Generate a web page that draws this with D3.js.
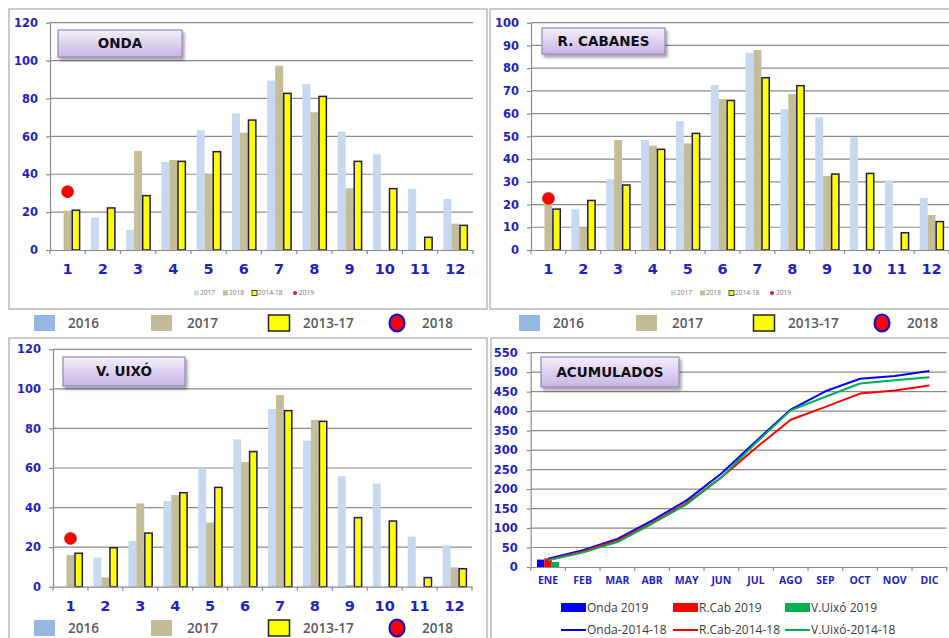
<!DOCTYPE html>
<html>
<head>
<meta charset="utf-8">
<script src="https://cdn.jsdelivr.net/npm/d3@7"></script>
<style>
  body { margin: 0; background: #fff; }
  svg { display: block; }
</style>
</head>
<body>
<svg id="grafico" width="949" height="638"></svg>
<script>
// --- datos ---
const meses = ["1", "2", "3", "4", "5", "6", "7", "8", "9", "10", "11", "12"];
const mesesAbr = ["ENE", "FEB", "MAR", "ABR", "MAY", "JUN", "JUL", "AGO", "SEP", "OCT", "NOV", "DIC"];

const ticks120 = [0, 20, 40, 60, 80, 100, 120];
const ticks100 = [0, 10, 20, 30, 40, 50, 60, 70, 80, 90, 100];
const ticksAcum = [0, 50, 100, 150, 200, 250, 300, 350, 400, 450, 500, 550];

const onda2016 = [0, 17.2, 10.6, 46.4, 63.2, 72.1, 89.4, 87.6, 62.5, 50.5, 32.2, 26.9];
const onda2017 = [20.8, 0, 52.3, 47.5, 40.1, 61.9, 97.3, 72.7, 32.6, 0, 0, 13.9];
const onda1317 = [21.0, 22.2, 28.7, 46.8, 51.9, 68.6, 82.7, 81.1, 46.8, 32.4, 6.7, 13.0];
const onda2018 = [30.8];

const cab2016 = [0, 17.9, 31.1, 48.4, 56.7, 72.6, 86.8, 62.0, 58.4, 49.6, 30.6, 22.9];
const cab2017 = [20.5, 9.8, 48.4, 45.9, 46.9, 66.4, 88.0, 68.6, 32.6, 0, 0, 15.4];
const cab1317 = [18.0, 21.8, 28.6, 44.3, 51.3, 65.8, 75.8, 72.3, 33.4, 33.7, 7.6, 12.5];
const cab2018 = [22.7];

const uixo2016 = [0, 14.8, 23.1, 43.3, 59.8, 74.5, 89.8, 73.8, 55.8, 52.1, 25.3, 20.9];
const uixo2017 = [16.0, 4.7, 42.1, 46.3, 32.4, 63.0, 96.9, 84.3, 0.8, 0, 0, 9.8];
const uixo1317 = [16.9, 19.7, 27.1, 47.5, 50.2, 68.3, 89.0, 83.6, 34.9, 33.2, 4.6, 9.1];
const uixo2018 = [24.4];

const acumOnda = [21, 43, 72, 119, 171, 240, 323, 404, 451, 483, 490, 503];
const acumCab = [18, 40, 68, 113, 164, 230, 306, 378, 411, 445, 453, 466];
const acumUixo = [17, 37, 64, 111, 161, 230, 319, 402, 437, 471, 479, 487];
const acum2019 = [19, 22, 13]; // Onda, R.Cab, V.Uixó en ENE

const AZUL_TXT = "#1f1fc4";
const GRIS_REJ = "#8a8a8a";

const svg = d3.select("#grafico");
const defs = svg.append("defs");

const grad = defs.append("linearGradient").attr("id", "gradTitulo")
    .attr("x1", 0).attr("y1", 0).attr("x2", 0).attr("y2", 1);
grad.append("stop").attr("offset", "0%").attr("stop-color", "#f4f0fb");
grad.append("stop").attr("offset", "100%").attr("stop-color", "#c6b5e4");

const sombra = defs.append("filter").attr("id", "sombra")
    .attr("x", "-10%").attr("y", "-20%").attr("width", "130%").attr("height", "160%");
sombra.append("feDropShadow").attr("dx", 2).attr("dy", 3).attr("stdDeviation", 1.6)
    .attr("flood-color", "#000").attr("flood-opacity", 0.35);


function marco(x, y, w, h){
    svg.append("rect")
        .attr("x", x).attr("y", y).attr("width", w).attr("height", h)
        .attr("fill", "#fff").attr("stroke", "#bdbdbd").attr("stroke-width", 1.6);
}


function titulo(g, texto, x, y, w, h){
    g.append("rect")
        .attr("x", x).attr("y", y).attr("width", w).attr("height", h)
        .attr("fill", "url(#gradTitulo)").attr("stroke", "#9585bd").attr("stroke-width", 1.2)
        .attr("filter", "url(#sombra)");
    g.append("text")
        .attr("x", x + w / 2).attr("y", y + h / 2).attr("dy", "0.36em")
        .attr("text-anchor", "middle")
        .attr("font-family", "DejaVu Sans, sans-serif").attr("font-weight", "bold")
        .attr("font-size", 13.5).attr("fill", "#111")
        .text(texto);
}


function estiloEjeY(a, tam){
    a.select(".domain").attr("stroke", GRIS_REJ).attr("stroke-width", 1.2);
    a.selectAll(".tick line").attr("stroke", GRIS_REJ).attr("stroke-width", 1.2);
    a.selectAll(".tick text")
        .attr("fill", AZUL_TXT).attr("font-family", "DejaVu Sans, sans-serif")
        .attr("font-weight", "bold").attr("font-size", tam);
}


function panelBarras(cfg){

    const g = svg.append("g");

    const x = d3.scaleBand().domain(meses).range([cfg.x0, cfg.x1])
        .paddingInner(0.32).paddingOuter(0.16);
    const y = d3.scaleLinear().domain([0, cfg.max]).range([cfg.base, cfg.top]);
    const xs = d3.scaleBand().domain(["s2016", "s2017", "s1317"]).range([0, x.bandwidth()]);

    // rejilla
    g.selectAll(".rejilla").data(cfg.ticks.slice(1)).enter().append("line")
        .attr("x1", cfg.x0).attr("x2", cfg.x1)
        .attr("y1", d => y(d)).attr("y2", d => y(d))
        .attr("stroke", GRIS_REJ).attr("stroke-width", 1.2);

    titulo(g, cfg.nombre, cfg.tit[0], cfg.tit[1], cfg.tit[2], cfg.tit[3]);

    const filas = meses.map((m, i) => ({mes: m, s2016: cfg.v2016[i], s2017: cfg.v2017[i], s1317: cfg.v1317[i]}));

    const grupos = g.selectAll(".mes").data(filas).enter().append("g")
        .attr("transform", d => `translate(${x(d.mes)},0)`);

    grupos.append("rect")
        .attr("x", xs("s2016")).attr("width", xs.bandwidth())
        .attr("y", d => y(d.s2016)).attr("height", d => cfg.base - y(d.s2016))
        .attr("fill", "#c6d9f1");
    grupos.append("rect")
        .attr("x", xs("s2017")).attr("width", xs.bandwidth())
        .attr("y", d => y(d.s2017)).attr("height", d => cfg.base - y(d.s2017))
        .attr("fill", "#c4bd97");
    grupos.append("rect")
        .attr("x", xs("s1317") + 0.6).attr("width", xs.bandwidth() - 0.6)
        .attr("y", d => y(d.s1317)).attr("height", d => cfg.base - y(d.s1317))
        .attr("fill", "#ffff00").attr("stroke", "#1c1c5a").attr("stroke-width", 1.5);

    // eje x
    g.append("g").attr("transform", `translate(0,${cfg.base})`)
        .call(d3.axisBottom(x).tickSize(0).tickSizeOuter(0).tickPadding(14))
        .call(a => {
            a.select(".domain").attr("stroke", GRIS_REJ).attr("stroke-width", 1.2);
            a.selectAll(".tick text")
                .attr("fill", AZUL_TXT).attr("font-family", "DejaVu Sans, sans-serif")
                .attr("font-weight", "bold").attr("font-size", 14.5);
        });

    // marcas entre categorias
    const limites = meses.map(m => x(m) - x.step() * x.paddingInner() / 2).concat([cfg.x1]);
    g.selectAll(".limite").data(limites).enter().append("line")
        .attr("x1", d => d).attr("x2", d => d)
        .attr("y1", cfg.base).attr("y2", cfg.base + 4)
        .attr("stroke", GRIS_REJ).attr("stroke-width", 1.2);

    // eje y
    g.append("g").attr("transform", `translate(${cfg.x0},0)`)
        .call(d3.axisLeft(y).tickValues(cfg.ticks).tickSize(4).tickSizeOuter(0).tickPadding(8))
        .call(a => estiloEjeY(a, 11.5));

    // punto 2018
    g.selectAll(".punto").data(cfg.v2018).enter().append("circle")
        .attr("cx", (d, i) => x(meses[i]) + x.bandwidth() / 2)
        .attr("cy", d => y(d)).attr("r", 6)
        .attr("fill", "#ff0000").attr("stroke", "#d40000").attr("stroke-width", 0.6);

    // leyenda pequeña interna
    if (cfg.miniLeyenda){
        const ml = g.append("g").attr("transform", `translate(${cfg.miniLeyenda[0]},${cfg.miniLeyenda[1]})`);
        const items = [["2017", "#c6d9f1", "r"], ["2018", "#c4bd97", "r"], ["2014-18", "#ffff00", "b"], ["2019", "#d0202a", "c"]];
        let px = 0;
        items.forEach(it => {
            if (it[2] === "c"){
                ml.append("circle").attr("cx", px + 2).attr("cy", 0).attr("r", 2).attr("fill", it[1]);
            } else {
                ml.append("rect").attr("x", px).attr("y", -2.5).attr("width", 5).attr("height", 5)
                    .attr("fill", it[1]).attr("stroke", it[2] === "b" ? "#1c1c5a" : "none").attr("stroke-width", 0.8);
            }
            ml.append("text").attr("x", px + 6).attr("y", 0).attr("dy", "0.35em")
                .attr("font-family", "Open Sans, sans-serif").attr("font-size", 6.5).attr("fill", "#777")
                .text(it[0]);
            px += it[0].length * 4 + 13;
        });
    }
}


function leyendaInferior(dx, yc){
    const g = svg.append("g").attr("transform", `translate(${dx},${yc})`);
    const fuente = t => t.attr("font-family", "Open Sans, sans-serif").attr("font-weight", 600)
        .attr("font-size", 13.5).attr("fill", "#595959").attr("dy", "0.36em");

    g.append("rect").attr("x", 34).attr("y", -8).attr("width", 21).attr("height", 16).attr("fill", "#95b8e3");
    fuente(g.append("text").attr("x", 68).attr("y", 0).text("2016"));

    g.append("rect").attr("x", 151).attr("y", -8).attr("width", 21).attr("height", 16).attr("fill", "#c4bc96");
    fuente(g.append("text").attr("x", 187).attr("y", 0).text("2017"));

    g.append("rect").attr("x", 268.5).attr("y", -8).attr("width", 21).attr("height", 16)
        .attr("fill", "#ffff00").attr("stroke", "#222").attr("stroke-width", 1.5);
    fuente(g.append("text").attr("x", 303).attr("y", 0).text("2013-17"));

    g.append("ellipse").attr("cx", 397).attr("cy", 0).attr("rx", 7.5).attr("ry", 8.5)
        .attr("fill", "#ff0000").attr("stroke", "#1010d0").attr("stroke-width", 2.2);
    fuente(g.append("text").attr("x", 422).attr("y", 0).text("2018"));
}


function panelAcumulados(cfg){

    const g = svg.append("g");

    const x = d3.scaleBand().domain(mesesAbr).range([cfg.x0, cfg.x1]);
    const xb = d3.scaleBand().domain(mesesAbr).range([cfg.x0, cfg.x1]).paddingInner(0.36).paddingOuter(0.18);
    const xs = d3.scaleBand().domain(["Onda", "R.Cab", "V.Uixó"]).range([0, xb.bandwidth()]);
    const y = d3.scaleLinear().domain([0, 550]).range([cfg.base, cfg.top]);

    g.selectAll(".rejilla").data(ticksAcum.slice(1)).enter().append("line")
        .attr("x1", cfg.x0).attr("x2", cfg.x1)
        .attr("y1", d => y(d)).attr("y2", d => y(d))
        .attr("stroke", GRIS_REJ).attr("stroke-width", 1.2);

    titulo(g, "ACUMULADOS", 541, 357, 138, 30);

    const colores = ["#0000ff", "#ff0000", "#00b050"];
    const series = [acumOnda, acumCab, acumUixo];

    // barras 2019 (solo ENE)
    g.selectAll(".b2019").data(acum2019).enter().append("rect")
        .attr("x", (d, i) => xb("ENE") + xs(xs.domain()[i]))
        .attr("width", xs.bandwidth())
        .attr("y", d => y(d)).attr("height", d => cfg.base - y(d))
        .attr("fill", (d, i) => colores[i]);

    const linea = d3.line()
        .x((d, i) => x(mesesAbr[i]) + x.bandwidth() / 2)
        .y(d => y(d));

    series.forEach((s, i) => {
        g.append("path").attr("d", linea(s))
            .attr("fill", "none").attr("stroke", colores[i]).attr("stroke-width", 2)
            .attr("stroke-linejoin", "round");
    });

    g.append("g").attr("transform", `translate(0,${cfg.base})`)
        .call(d3.axisBottom(x).tickSize(0).tickSizeOuter(0).tickPadding(10))
        .call(a => {
            a.select(".domain").attr("stroke", GRIS_REJ).attr("stroke-width", 1.2);
            a.selectAll(".tick text")
                .attr("fill", AZUL_TXT).attr("font-family", "Open Sans, sans-serif")
                .attr("font-weight", "bold").attr("font-size", 10.5);
        });

    const limites = mesesAbr.map(m => x(m)).concat([cfg.x1]);
    g.selectAll(".limite").data(limites).enter().append("line")
        .attr("x1", d => d).attr("x2", d => d)
        .attr("y1", cfg.base).attr("y2", cfg.base + 4)
        .attr("stroke", GRIS_REJ).attr("stroke-width", 1.2);

    g.append("g").attr("transform", `translate(${cfg.x0},0)`)
        .call(d3.axisLeft(y).tickValues(ticksAcum).tickSize(4).tickSizeOuter(0).tickPadding(9))
        .call(a => estiloEjeY(a, 11.5));

    // leyenda
    const nombres2019 = ["Onda 2019", "R.Cab 2019", "V.Uixó 2019"];
    const nombresLinea = ["Onda-2014-18", "R.Cab-2014-18", "V.Uixó-2014-18"];
    const posX = [561, 673, 785];
    const ley = g.append("g");
    posX.forEach((px, i) => {
        ley.append("rect").attr("x", px).attr("y", 603).attr("width", 25).attr("height", 9).attr("fill", colores[i]);
        ley.append("text").attr("x", px + 26).attr("y", 607.5).attr("dy", "0.35em")
            .attr("font-family", "Open Sans, sans-serif").attr("font-size", 12).attr("fill", "#3a3a3a")
            .text(nombres2019[i]);
        ley.append("line").attr("x1", px).attr("x2", px + 25).attr("y1", 630).attr("y2", 630)
            .attr("stroke", colores[i]).attr("stroke-width", 2);
        ley.append("text").attr("x", px + 26).attr("y", 630).attr("dy", "0.35em")
            .attr("font-family", "Open Sans, sans-serif").attr("font-size", 12).attr("fill", "#3a3a3a")
            .text(nombresLinea[i]);
    });
}


// marcos de los cuatro paneles
marco(9, 9, 478, 300);
marco(490, 9, 470, 300);
marco(9, 338, 478, 320);
marco(491, 338, 470, 320);

panelBarras({nombre: "ONDA", x0: 50, x1: 473, base: 250, top: 22.7, max: 120, ticks: ticks120,
    v2016: onda2016, v2017: onda2017, v1317: onda1317, v2018: onda2018,
    tit: [58, 30, 124, 27], miniLeyenda: [194, 293]});

panelBarras({nombre: "R. CABANES", x0: 531, x1: 949, base: 250, top: 22.7, max: 100, ticks: ticks100,
    v2016: cab2016, v2017: cab2017, v1317: cab1317, v2018: cab2018,
    tit: [542, 28, 123, 26], miniLeyenda: [671, 293]});

panelBarras({nombre: "V. UIXÓ", x0: 53, x1: 472, base: 586.7, top: 349.3, max: 120, ticks: ticks120,
    v2016: uixo2016, v2017: uixo2017, v1317: uixo1317, v2018: uixo2018,
    tit: [63, 357, 122, 29], miniLeyenda: null});

panelAcumulados({x0: 530.7, x1: 946.7, base: 567, top: 352.7});

leyendaInferior(0, 323);
leyendaInferior(485, 323);
leyendaInferior(0, 628);
</script>
</body>
</html>
